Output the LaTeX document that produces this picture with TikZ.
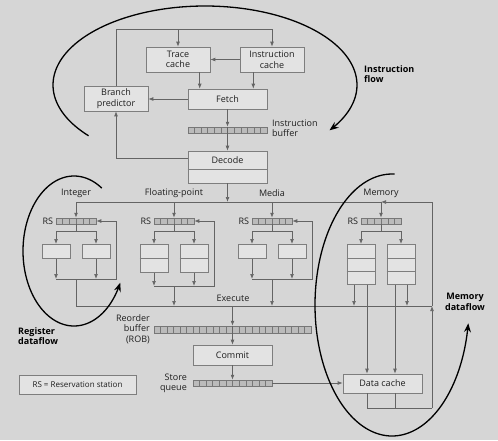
\documentclass[tikz,border=0pt]{standalone}
\usepackage{fontspec}
\setmainfont{Open Sans}
\usetikzlibrary{arrows.meta,calc}
\definecolor{bg}{HTML}{D6D6D6}
\definecolor{boxf}{HTML}{E3E3E3}
\definecolor{boxd}{HTML}{7E7E7E}
\definecolor{buff}{HTML}{BBBBBB}
\definecolor{bufd}{HTML}{777777}
\definecolor{linec}{HTML}{646464}
\definecolor{txt}{HTML}{1E1E1E}
\newcommand{\bx}[6]{\node[box, minimum width={#4-#2}, minimum height={#5-#3}] (#1) at ({(#2+#4)/2},{(#3+#5)/2}) {#6};}
\newcommand{\bufnode}[6]{\node[buf, minimum width={#4-#2}, minimum height={#5-#3}] (#1) at ({(#2+#4)/2},{(#3+#5)/2}) {};\cells{#1}{#6}}
\newcommand{\cells}[2]{\pgfmathtruncatemacro\ncm{#2-1}\foreach \i in {1,...,\ncm}{\draw[celll] ($(#1.south west)!\i/#2!(#1.south east)$) -- ($(#1.north west)!\i/#2!(#1.north east)$);}}
\newcommand{\divline}[2]{\draw[boxl] ($(#1.north west)!#2!(#1.south west)$) -- ($(#1.north east)!#2!(#1.south east)$);}
% cluster: id, center x, label, unit height
\newcommand{\cluster}[4]{%
  \node[lbl] (#1lab) at (#2,193) {#3};
  \node[buf, minimum width=40, minimum height=6] (#1rs) at (#2,221) {};
  \cells{#1rs}{6}
  \node[lbl, anchor=east] (#1rsl) at ($(#1rs.west)+(-2.5,0)$) {RS};
  \node[unit, minimum height=#4, anchor=north] (#1a) at (#2-20,244) {};
  \node[unit, minimum height=#4, anchor=north] (#1b) at (#2+20,244) {};
  \coordinate (#1sp) at (#2,231);
  \draw[arr] (#1rs.north |- dist) -- (#1rs.north);
  \draw[ln] (#1rs.south) -- (#1sp);
  \draw[ln] (#1a.north |- #1sp) -- (#1b.north |- #1sp);
  \draw[arr] (#1a.north |- #1sp) -- (#1a.north);
  \draw[arr] (#1b.north |- #1sp) -- (#1b.north);
}
% merge and feedback loop: id, center x, merge y
\newcommand{\mergeloop}[3]{%
  \coordinate (#1m) at (#2,#3);
  \coordinate (#1lp) at (#2+40,#3);
  \draw[arr] (#1a.south) -- (#1a.south |- #1m);
  \draw[arr] (#1b.south) -- (#1b.south |- #1m);
  \draw[arr] (#1a.south |- #1m) -- (#1lp) |- (#1rs.east);
}
\tikzset{
  lbl/.style={font=\fontsize{9}{10.5}\selectfont, text=txt, inner sep=0pt, align=center},
  box/.style={draw=boxd, fill=boxf, line width=0.6pt, inner sep=0pt, align=center, font=\fontsize{9}{10.5}\selectfont, text=txt},
  boxl/.style={draw=boxd, line width=0.6pt},
  unit/.style={box, minimum width=28},
  buf/.style={draw=bufd, fill=buff, line width=0.5pt, inner sep=0pt},
  celll/.style={draw=bufd, line width=0.4pt},
  ln/.style={draw=linec, line width=0.65pt},
  arr/.style={ln, -{Latex[length=5pt,width=3.8pt]}},
  flow/.style={draw=black, line width=1.3pt, -{Stealth[length=9pt,width=7pt]}},
  bold/.style={font=\fontsize{9}{10.5}\selectfont\bfseries, text=black, inner sep=0pt, align=left}
}
\begin{document}
\begin{tikzpicture}[x=1pt,y=-1pt]
\fill[bg] (0,0) rectangle (498,440);
\useasboundingbox (0,0) rectangle (498,440);

% ---- front end
\bx{trace}{146}{47}{210}{72}{Trace\\cache}
\bx{icache}{240}{47}{304}{72}{Instruction\\cache}
\bx{fetch}{188}{89}{267}{109}{Fetch}
\bx{bpred}{84}{86}{148}{111}{Branch\\predictor}
\bufnode{ibuf}{188}{127}{267}{133}{12}
\node[lbl, anchor=west, align=left] (iblab) at (272,128) {Instruction\\buffer};
\bx{decode}{188}{151}{267}{183}{}
\coordinate (ddiv) at (0,169);
\draw[boxl] (decode.west |- ddiv) -- (decode.east |- ddiv);
\node[lbl] (dtxt) at ($(decode.north)+(0,9)$) {Decode};

\coordinate (ftop) at (116,29);
\draw[ln] (bpred.north) -- (bpred.north |- ftop) -- (icache.north |- ftop);
\draw[arr] (trace.north |- ftop) -- (trace.north);
\draw[arr] (icache.north |- ftop) -- (icache.north);
\draw[arr] (icache.west) -- (trace.east);
\coordinate (f1) at ([xshift=12pt]fetch.north west);
\coordinate (f2) at ([xshift=-14pt]fetch.north east);
\draw[arr] (trace.south -| f1) -- (f1);
\draw[arr] (icache.south -| f2) -- (f2);
\draw[arr] (fetch.west) -- (bpred.east |- fetch.west);
\draw[arr] (fetch.south) -- (ibuf.north);
\draw[arr] (ibuf.north) -- (decode.north);
\coordinate (dL) at ([yshift=-8pt]decode.north west);
\draw[arr] (dL) -| (bpred.south);

% ---- distribution
\coordinate (dist) at (0,202);
\coordinate (exR) at (432,306);
\draw[arr] (decode.south) -- (decode.south |- dist);

\cluster{int}{76}{Integer}{14}
\cluster{fp}{174}{Floating-point}{28}
\cluster{med}{272}{Media}{14}
\cluster{mem}{381}{Memory}{40}
\divline{fpa}{0.5}
\divline{fpb}{0.5}
\divline{mema}{0.34}
\divline{mema}{0.67}
\divline{memb}{0.34}
\divline{memb}{0.67}
\draw[ln] (intrs.north |- dist) -- (memrs.north |- dist);

\mergeloop{int}{76}{279}
\mergeloop{fp}{174}{286}
\mergeloop{med}{272}{279}

% ---- execute bus
\draw[ln] (intm) -- (intm |- exR) -- (exR);
\draw[arr] (fpm) -- (fpm |- exR);
\draw[arr] (medm) -- (medm |- exR);
\node[lbl] (exlab) at (233,298) {Execute};

% ---- retire
\bufnode{rob}{154}{326}{311}{333}{24}
\node[lbl, anchor=east, align=right] (roblab) at (150,329) {Reorder\\buffer\\(ROB)};
\bx{commit}{193}{345}{272}{365}{Commit}
\bufnode{sq}{193}{380}{272}{386}{12}
\node[lbl, anchor=east, align=right] (sqlab) at (187,383.5) {Store\\queue};
\bx{dcache}{343}{374}{422}{393}{Data cache}
\draw[arr] (rob.north |- exR) -- (rob.north);
\draw[arr] (rob.north) -- (commit.north);
\draw[arr] (commit.south) -- (sq.north);
\draw[arr] (sq.east) -- (dcache.west |- sq.east);

% ---- memory outputs
\coordinate (ma1) at ([xshift=-7pt]mema.south);
\coordinate (ma2) at ([xshift=6pt]mema.south);
\coordinate (mb1) at ([xshift=-6pt]memb.south);
\coordinate (mb2) at ([xshift=6pt]memb.south);
\draw[arr] (ma1) -- (ma1 |- exR);
\draw[arr] (mb2) -- (mb2 |- exR);
\draw[arr] (ma2) -- (ma2 |- dcache.north);
\draw[arr] (mb1) -- (mb1 |- dcache.north);
\coordinate (dcb) at (432,408);
\draw[ln] (ma2 |- dcache.south) -- (ma2 |- dcb) -- (dcb);
\draw[ln] (mb1 |- dcache.south) -- (mb1 |- dcb);
\draw[arr] (dcb) -- (exR);
\draw[ln] (exR) -- (exR |- dist);
\draw[arr] (exR |- dist) -- (memrs.north |- dist);

% ---- legend
\node[box, minimum width=117, minimum height=19, font=\fontsize{8}{9.5}\selectfont] (legend) at (77.5,384.5) {RS = Reservation station};

% ---- flow curves
\draw[flow] plot[domain=140:395, samples=120, smooth] ({205+152*cos(\x)},{85+79*sin(\x)});
\draw[flow] plot[domain=-303:-25, samples=120, smooth] ({74+51*cos(-\x)},{251+75*sin(-\x)});
\draw[flow] plot[domain=-272:-8, samples=120, smooth] ({392+77*cos(-\x)},{305+131*sin(-\x)});
\node[bold, anchor=west] (iflow) at (364,74) {Instruction\\flow};
\node[bold, anchor=west] (rflow) at (18,336) {Register\\dataflow};
\node[bold, align=center] (mflow) at (465,302) {Memory\\dataflow};
\end{tikzpicture}
\end{document}
